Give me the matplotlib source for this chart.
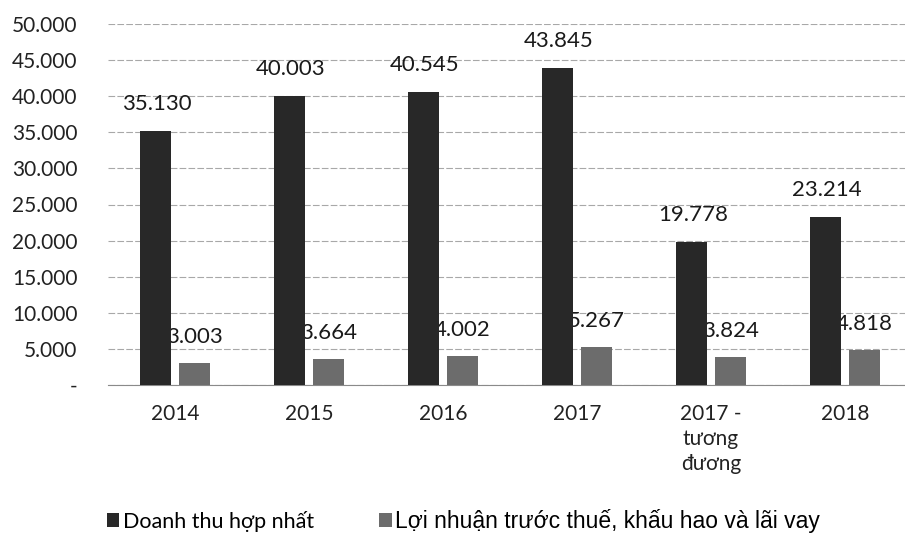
# Bar chart: consolidated revenue vs EBITDA, 2014-2018
import matplotlib.pyplot as plt
import numpy as np

categories = ["2014", "2015", "2016", "2017", "2017 -\ntương\nđương", "2018"]
doanh_thu = [35130, 40003, 40545, 43845, 19778, 23214]
loi_nhuan = [3003, 3664, 4002, 5267, 3824, 4818]
series_names = ["Doanh thu hợp nhất", "Lợi nhuận trước thuế, khấu hao và lãi vay"]
yticks = [0, 5000, 10000, 15000, 20000, 25000, 30000, 35000, 40000, 45000, 50000]


def fmt(v):
    # thousands separator is a dot in this chart
    return "-" if v == 0 else "{:,}".format(v).replace(",", ".")


fig = plt.figure(figsize=(9.05, 5.35), dpi=100)
ax = fig.add_axes([108 / 905, 150 / 535, 804 / 905, 361 / 535])

x = np.arange(len(categories))
w = 0.235
off = 0.145
b1 = ax.bar(x - off, doanh_thu, w, color="#282828", label=series_names[0], zorder=3)
b2 = ax.bar(x + off, loi_nhuan, w, color="#6c6c6c", label=series_names[1], zorder=3)

# value labels (the grey ones slip behind the dark bars, as in the original)
for rect, v in zip(b1, doanh_thu):
    ax.text(rect.get_x() + rect.get_width() / 2 + 0.01, v + 3800, fmt(v), ha="center",
            va="center", fontsize=16, family="Lato", color="#1a1a1a", zorder=4)
for rect, v in zip(b2, loi_nhuan):
    ax.text(rect.get_x() + rect.get_width() / 2, v + 3600, fmt(v), ha="center",
            va="center", fontsize=16, family="Lato", color="#1a1a1a", zorder=2)

ax.set_xlim(-0.5, len(categories) - 0.5)
ax.set_ylim(0, 50000)
ax.set_yticks(yticks)
ax.set_yticklabels([fmt(t) for t in yticks], family="Lato", fontsize=15, color="#222222")
ax.set_xticks(x)
ax.set_xticklabels(categories, family="Lato", fontsize=15, color="#222222", va="top",
                   linespacing=1.3)
ax.tick_params(axis="both", length=0)
ax.tick_params(axis="y", pad=22)
ax.tick_params(axis="x", pad=14)
ax.grid(axis="y", color="#a8a8a8", linestyle=(0, (6, 2)), linewidth=0.8, zorder=0)
for s in ["top", "right", "left"]:
    ax.spines[s].set_visible(False)
ax.spines["bottom"].set_color("#8a8a8a")

leg = fig.legend(handles=[b1, b2], labels=series_names, loc="center left",
                 bbox_to_anchor=(86 / 905, 1 - 521 / 535), ncol=2, frameon=False,
                 handlelength=0.55, handleheight=0.55, handletextpad=0.15,
                 columnspacing=2.85, prop={"family": "Liberation Sans", "size": 16.5})
leg.get_texts()[0].set_fontfamily("Lato")
leg.get_texts()[0].set_fontsize(15.5)

fig.savefig("out.png", dpi=100)
